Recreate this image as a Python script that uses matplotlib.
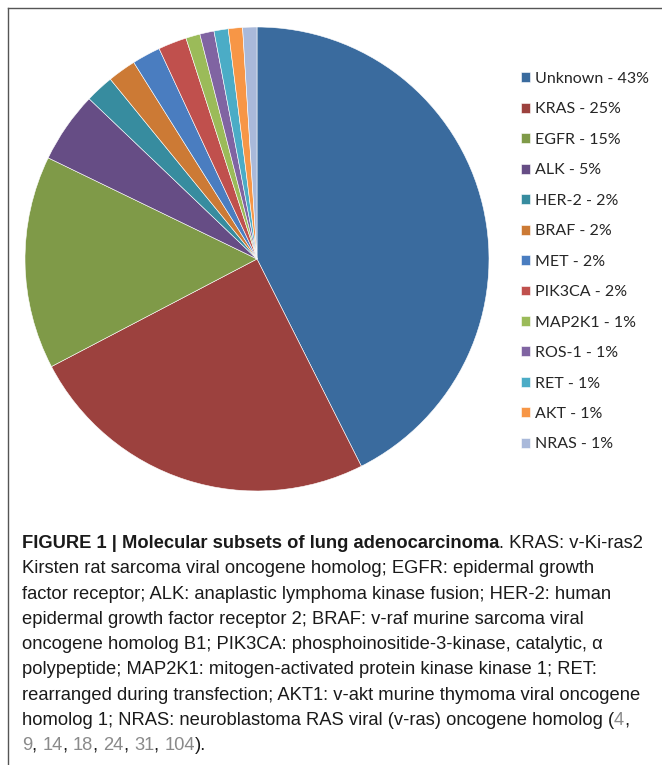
import matplotlib
matplotlib.use("Agg")
import matplotlib.pyplot as plt

labels = ["Unknown", "KRAS", "EGFR", "ALK", "HER-2", "BRAF", "MET", "PIK3CA",
          "MAP2K1", "ROS-1", "RET", "AKT", "NRAS"]
shares = [43, 25, 15, 5, 2, 2, 2, 2, 1, 1, 1, 1, 1]
colors = ["#3A6B9E", "#9C413E", "#7F9A48", "#664D85", "#378C9F", "#CC7A35",
          "#4A7DC0", "#C0504D", "#9BBB59", "#8064A2", "#4BACC6", "#F79646",
          "#A9B9DA"]

caption = [
    [("FIGURE 1 | Molecular subsets of lung adenocarcinoma", "bold", "#1a1a1a"),
     (". KRAS: v-Ki-ras2", "normal", "#1a1a1a")],
    [("Kirsten rat sarcoma viral oncogene homolog; EGFR: epidermal growth", "normal", "#1a1a1a")],
    [("factor receptor; ALK: anaplastic lymphoma kinase fusion; HER-2: human", "normal", "#1a1a1a")],
    [("epidermal growth factor receptor 2; BRAF: v-raf murine sarcoma viral", "normal", "#1a1a1a")],
    [("oncogene homolog B1; PIK3CA: phosphoinositide-3-kinase, catalytic, \u03b1", "normal", "#1a1a1a")],
    [("polypeptide; MAP2K1: mitogen-activated protein kinase kinase 1; RET:", "normal", "#1a1a1a")],
    [("rearranged during transfection; AKT1: v-akt murine thymoma viral oncogene", "normal", "#1a1a1a")],
    [("homolog 1; NRAS: neuroblastoma RAS viral (v-ras) oncogene homolog (", "normal", "#1a1a1a"),
     ("4", "normal", "#8a8a8a"), (",", "normal", "#1a1a1a")],
    [("9", "normal", "#8a8a8a"), (", ", "normal", "#1a1a1a"),
     ("14", "normal", "#8a8a8a"), (", ", "normal", "#1a1a1a"),
     ("18", "normal", "#8a8a8a"), (", ", "normal", "#1a1a1a"),
     ("24", "normal", "#8a8a8a"), (", ", "normal", "#1a1a1a"),
     ("31", "normal", "#8a8a8a"), (", ", "normal", "#1a1a1a"),
     ("104", "normal", "#8a8a8a"), (").", "normal", "#1a1a1a")],
]

W, H = 662, 765
fig = plt.figure(figsize=(W / 100, H / 100), dpi=100)
fig.patch.set_facecolor("white")

# frame (only top and left edges visible in the crop)
fig.add_artist(plt.Line2D([7.5 / W, 1], [1 - 7.5 / H, 1 - 7.5 / H],
                          color="#555555", linewidth=1.0))
fig.add_artist(plt.Line2D([7.5 / W, 7.5 / W], [0, 1 - 7.5 / H],
                          color="#555555", linewidth=1.0))

# pie, centre (257, 259) px, radius 232 px
cx, cy, r = 257, 259, 232
ax = fig.add_axes([(cx - r) / W, 1 - (cy + r) / H, 2 * r / W, 2 * r / H])
wedges, _ = ax.pie(shares, colors=colors, startangle=90, counterclock=False,
                   wedgeprops=dict(edgecolor="white", linewidth=0.4))
ax.set_xlim(-1, 1)
ax.set_ylim(-1, 1)
ax.axis("off")

legend_labels = [f"{l} - {v}%" for l, v in zip(labels, shares)]
fig.legend(wedges, legend_labels, loc="upper left",
           bbox_to_anchor=(513 / W, 1 - 64 / H), frameon=False,
           prop={"family": "Lato", "size": 11.5}, labelcolor="#262626",
           handlelength=0.58, handleheight=0.58, handletextpad=0.3,
           labelspacing=1.03, borderpad=0)

# caption with mixed runs, placed one after another on each line
cap_family = "Liberation Sans"
cap_size = 13.2
renderer = fig.canvas.get_renderer()
y0, dy = 548, 25.3
for i, runs in enumerate(caption):
    x = 22
    yb = 1 - (y0 + i * dy) / H
    for txt, weight, col in runs:
        t = fig.text(x / W, yb, txt, fontsize=cap_size, family=cap_family,
                     fontweight=weight, color=col, va="baseline", ha="left")
        x += t.get_window_extent(renderer).width

fig.savefig("out.png", dpi=100, facecolor="white")
